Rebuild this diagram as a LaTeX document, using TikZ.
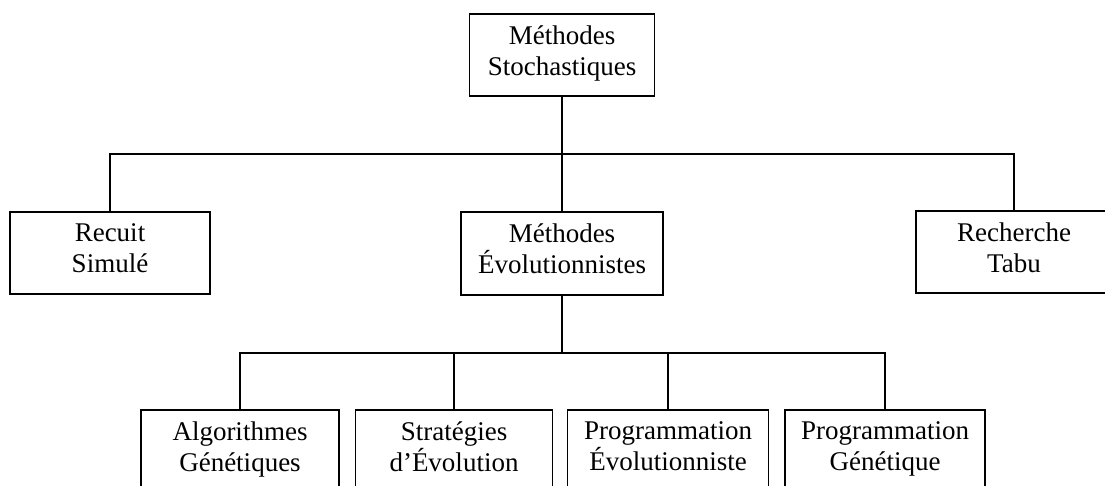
\documentclass[tikz,border=0pt]{standalone}
\usepackage{fontspec}
\setmainfont{Liberation Serif}
\begin{document}
\begin{tikzpicture}[x=1pt,y=-1pt,
  line width=1.8pt,
  every node/.style={font=\fontsize{27}{31}\selectfont},
  box/.style={draw, align=center, minimum width=200pt, minimum height=82pt, inner sep=0pt,
    execute at begin node=\strut, execute at end node=\strut}]
  \useasboundingbox (0,0) rectangle (1105,486);
  \clip (0,0) rectangle (1105,486);
  \fill[white] (0,0) rectangle (1105,486);

  % root
  \node[box, minimum width=185pt] (root) at (562,55) {Méthodes\\Stochastiques};

  % second level
  \node[box] (recuit) at (110,253) {Recuit\\Simulé};
  \node[box, minimum width=202pt, minimum height=83pt] (evo) at (562,253.5) {Méthodes\\Évolutionnistes};
  \node[box, minimum width=196pt] (tabu) at (1014,252) {Recherche\\Tabu};

  % third level
  \node[box, minimum width=198pt] (algo) at (240,451) {Algorithmes\\Génétiques};
  \node[box, minimum width=197pt] (strat) at (454,451) {Stratégies\\d’Évolution};
  \node[box, minimum width=201pt] (progevo) at (668,451) {Programmation\\Évolutionniste};
  \node[box] (proggen) at (885,451) {Programmation\\Génétique};

  % connectors: root to second level
  \draw (root.south) -- ++(0,57) coordinate (busA);
  \draw (recuit.north) |- (busA) -| (tabu.north);
  \draw (busA) -- (evo.north);

  % connectors: evolutionary methods to their branches
  \draw (evo.south) -- ++(0,57) coordinate (busB);
  \draw (algo.north) |- (busB) -| (proggen.north);
  \draw (strat.north) -- (strat.north |- busB);
  \draw (progevo.north) -- (progevo.north |- busB);
\end{tikzpicture}
\end{document}
